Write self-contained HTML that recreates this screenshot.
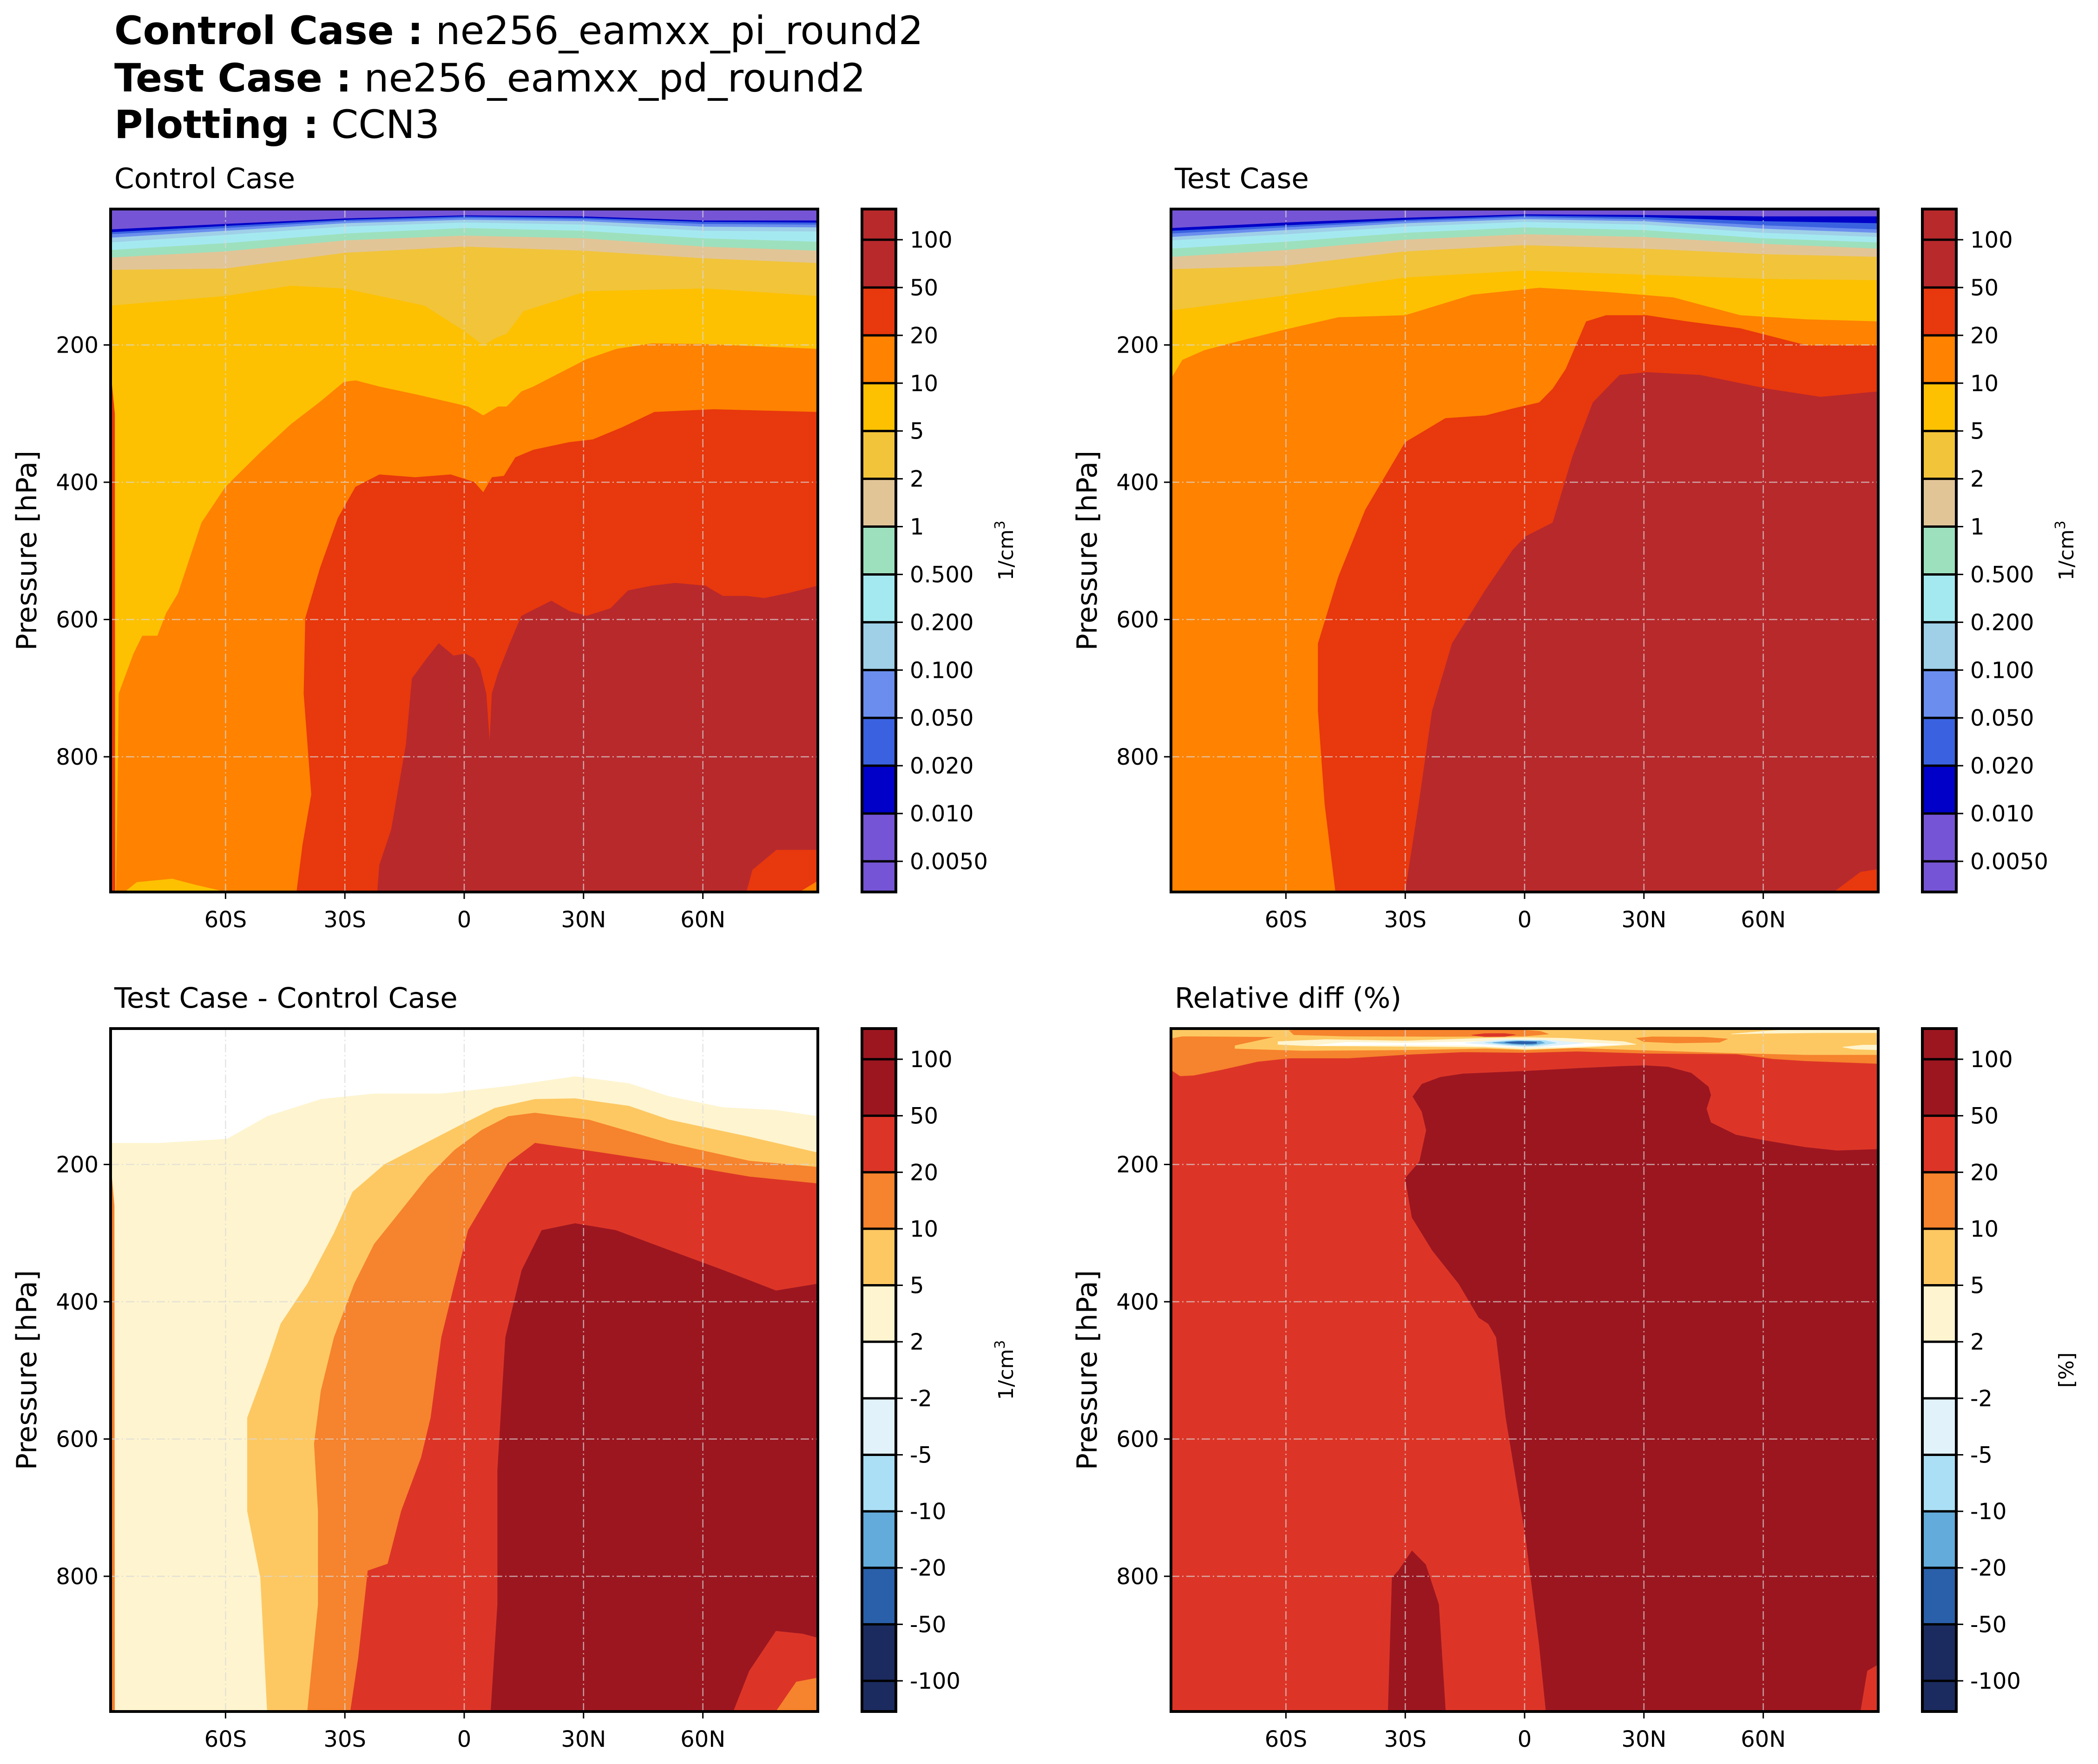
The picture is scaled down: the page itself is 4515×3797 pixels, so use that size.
<!DOCTYPE html>
<html><head><meta charset="utf-8"><title>CCN3 zonal mean</title>
<style>html,body{margin:0;padding:0;background:#fff;}svg{display:block;}text{font-family:"DejaVu Sans","Liberation Sans",sans-serif;fill:#000;}</style>
</head><body>
<svg id="fig" xmlns="http://www.w3.org/2000/svg" width="4515" height="3797" viewBox="0 0 4515 3797">
<rect width="4515" height="3797" fill="#fff"/>
<g>
<text x="246" y="95" font-size="84"><tspan font-weight="bold">Control Case :</tspan> ne256_eamxx_pi_round2</text>
<text x="246" y="197" font-size="84"><tspan font-weight="bold">Test Case :</tspan> ne256_eamxx_pd_round2</text>
<text x="246" y="297" font-size="84"><tspan font-weight="bold">Plotting :</tspan> CCN3</text>
</g>
</svg>
<script>
// ---------- axis ranges ----------
const latRange = [-88.9, 88.9];
const presRange = [2, 997];
const xTickValues = [-60, -30, 0, 30, 60];
const xTickLabels = ["60S", "30S", "0", "30N", "60N"];
const yTickValues = [200, 400, 600, 800];
const yTickLabels = ["200", "400", "600", "800"];
const panelTitles = ["Control Case", "Test Case", "Test Case - Control Case", "Relative diff (%)"];
const cbUnits = ["1/cm", "1/cm", "1/cm", "[%]"];

// ---------- colorbar data ----------
const cbTicksAbs = ["100","50","20","10","5","2","1","0.500","0.200","0.100","0.050","0.020","0.010","0.0050"];
const cbColorsAbs = ["#b8292c","#b8292c","#e8380d","#ff8200","#fdc101","#f2c43a","#e2c597","#9de0bd","#a5e9f0","#9fd0e8","#6b8eee","#3a62e0","#0000c8","#7555d5","#7555d5"];
const cbTicksDiff = ["100","50","20","10","5","2","-2","-5","-10","-20","-50","-100"];
const cbColorsDiff = ["#9c1620","#9c1620","#dc3527","#f6832d","#fdc862","#fef4cf","#ffffff","#e1f2fa","#abdff5","#63abdb","#2a5fa9","#1b2b60","#1b2b60"];

// ---------- Panel 1 (control) ----------
const bandLats = [-88.9, -60, -30, 0, 30, 60, 88.9];
const ctl001 = [32, 24, 16, 11.5, 13, 19, 19];
const ctl002 = [36, 27, 18, 13, 15, 21, 22];
const ctl005 = [39, 30, 20, 15, 17, 24, 25];
const ctl01 = [44, 34, 23, 18, 20, 28, 29];
const ctl02 = [51, 40, 28, 22, 25, 34, 35];
const ctl05 = [62, 52, 38, 30, 34, 45, 50];
const ctl1 = [73, 64, 48, 41, 45, 57, 63];
const ctl2 = [91, 89, 66, 57, 63, 74, 81];
const ctl5 = [[-88.9,143],[-60,129],[-43.6,114],[-30.2,118],[-10,143],[0,180],[4.8,201],[8,190],[10.7,184],[15,151],[30.8,122],[60.6,118],[88.9,129]];
const ctl10 = [[-87.5,997],[-87.3,928],[-86.8,708],[-83.1,650],[-80.9,624],[-77.1,624],[-74.9,591],[-71.9,562],[-66,459],[-60,407],[-51.1,356],[-43.6,316],[-36.2,283],[-30.2,254],[-27.3,252],[-21.3,261],[-12.4,272],[-3.4,284],[1,290],[4.8,303],[8.5,290],[10.7,290],[14.4,268],[17.4,261],[23.4,243],[30.8,221],[38.3,206],[47.2,198],[60.6,199],[88.9,206],[88.9,997]];
const ctl20 = [[-42.1,997],[-40.6,928],[-38.4,855],[-40.3,708],[-39.9,598],[-36.2,525],[-31.7,452],[-27.3,407],[-21.3,389],[-12.4,393],[-3.4,389],[2.5,400],[4.8,415],[7,393],[10,391],[12.9,364],[17.4,353],[26.4,342],[32.3,338],[39.8,320],[47.8,298],[62.7,294],[88.9,298],[88.9,997]];
const ctl50 = [[-21.8,997],[-21.3,958],[-18.3,906],[-14.6,782],[-13.1,686],[-9.4,657],[-6.4,635],[-2.7,653],[0.3,650],[2.5,657],[4,672],[5.5,708],[6.4,782],[7,708],[8.5,679],[11.5,635],[14.4,595],[21.9,573],[26.4,588],[30.8,595],[36.8,584],[41.2,558],[47.2,551],[53.1,547],[60.6,551],[65,566],[71,566],[75.5,569],[81.4,562],[88.9,551],[88.9,997]];
const ctlEdgeStrip = [[-88.9,240],[-87.9,300],[-87.8,997],[-88.9,997]];
const ctlBottomYellow = [[-85.3,997],[-82.3,983],[-73.4,978],[-67.5,987],[-60,997]];
const ctlCornerRed = [[71,997],[72.5,965],[78.5,936],[88.9,936],[88.9,997]];
const ctlCornerOrange = [[84.4,997],[88.9,981],[88.9,997]];

// ---------- Panel 2 (test) ----------
const tst001 = [30, 22, 15, 10, 11, 13, 13];
const tst002 = [34, 26, 18, 12, 14, 20, 23];
const tst005 = [38, 29, 20, 14, 17, 26, 32];
const tst01 = [43, 33, 23, 17, 20, 31, 37];
const tst02 = [48, 39, 28, 21, 25, 37, 43];
const tst05 = [60, 50, 37, 29, 33, 45, 51];
const tst1 = [72, 62, 47, 39, 43, 53, 60];
const tst2 = [90, 85, 64, 55, 60, 68, 72];
const tst5 = [150, 128, 102, 92, 98, 104, 106];
const tst10 = [[-88.9,997],[-88.9,250],[-86,222],[-80.5,208],[-70,192],[-60.3,178],[-46.8,160],[-30,157],[-13.1,127],[3.7,117],[20.5,123],[37.4,131],[54.2,157],[71,163],[88.9,166],[88.9,997]];
const tst20 = [[-47.5,997],[-50.2,870],[-51.9,733],[-51.9,635],[-46.8,538],[-40,440],[-30,342],[-19.9,307],[-9.8,303],[-3,293],[3.7,284],[7.1,264],[10.4,235],[15.5,166],[20.5,157],[30.7,157],[40.8,166],[54.2,176],[71,201],[88.9,201],[88.9,997]];
const tst50 = [[-30,997],[-26.6,870],[-23.2,733],[-18.2,635],[-9.8,557],[-3,499],[0.3,479],[7.1,459],[12.1,362],[17.2,284],[23.9,244],[30.7,240],[44.1,244],[61,264],[74.4,276],[88.9,268],[88.9,997]];
const tstCornerRed = [[77.8,997],[84.5,968],[88.9,964],[88.9,997]];

// ---------- Panel 3 (difference) ----------
const dif2 = [[-88.9,997],[-88.9,169],[-76.4,169],[-59.6,163],[-49.5,130],[-36,105],[-22.6,97],[-5.8,97],[11.1,86],[27.9,72],[41.4,82],[51.5,101],[65,117],[78.4,121],[88.9,130],[88.9,997]];
const dif5 = [[-49.5,997],[-51.2,802],[-54.5,705],[-54.5,569],[-49.5,491],[-46.1,432],[-39.4,374],[-32.7,300],[-28,240],[-20,200],[-10,170],[0,140],[7.7,118],[17.8,105],[27.9,104],[41.4,115],[51.5,135],[71.7,160],[88.9,183],[88.9,997]];
const dif10 = [[-39.4,997],[-36.7,841],[-36.7,705],[-37.7,607],[-36,530],[-32.7,452],[-27.6,374],[-22.6,316],[-15.8,267],[-9.1,218],[-2.4,179],[4.4,150],[11.1,130],[17.8,125],[31.3,135],[51.5,169],[71.7,195],[88.9,204],[88.9,997]];
const dif20 = [[-28.6,997],[-26.6,919],[-24.2,792],[-19.2,782],[-15.8,705],[-10.8,627],[-8.4,569],[-5.7,452],[-2.4,374],[1,296],[6,247],[11.1,198],[17.8,169],[34.6,183],[51.5,198],[71.7,218],[88.9,228],[88.9,997]];
const dif50 = [[6.7,997],[8.4,841],[8.4,646],[10.4,452],[14.5,354],[19.5,296],[27.9,286],[38.1,296],[51.5,325],[65,354],[78.4,384],[88.9,374],[88.9,997]];
const difCornerRed = [[67.7,997],[71.7,938],[78.4,880],[85.1,884],[88.9,890],[88.9,997]];
const difCornerOrange = [[78.4,997],[83.5,954],[88.9,948],[88.9,997]];
const difEdgeStrip = [[-88.9,200],[-88,260],[-87.9,997],[-88.9,997]];

// ---------- Panel 4 (relative difference) ----------
const relOrange = [[-88.9,2],[88.9,2],[88.9,53],[70.5,49],[62.5,46],[53.3,39],[30.4,38],[13.2,35],[0.6,37],[-15.5,36],[-30.4,40],[-44.2,45],[-59.1,45],[-67.1,50],[-76.3,62],[-83.2,70],[-86.6,71],[-88.9,62]];
const relLightOrange = [[-88.9,2],[88.9,2],[88.9,40],[70.5,40],[53.3,37.7],[28.1,33],[13.2,30],[0.6,33],[-9.8,31],[-30.4,33],[-55.6,34],[-72.8,31],[-72.8,27],[-62.5,14],[-86,13],[-88.9,16]];
const relBlobA = [[-59.1,5],[-54,2],[-6,2],[4,6],[6,10],[0,13],[-20,13.5],[-45,13],[-58,11]];
const relBlobRed = [[-13.3,11.5],[-10,9.3],[-5,9.2],[-2.3,11],[-5,13.5],[-10,13.8]];
const relBlobB = [[28.1,16],[32,14],[45,14.5],[51,17],[49,22],[38,23],[30,21]];
const relCream = [[-62,21],[-50,18],[-30,20],[-10,16],[0,15],[10,16],[25,21],[28,25],[15,29],[0,32],[-10,29],[-30,28],[-55,27],[-62,25]];
const relCreamTop = [[52,10],[60,6],[70,2],[88.9,2],[88.9,8],[75,8],[60,9]];
const relCreamRight = [[80,29],[85,26],[88.9,26],[88.9,33],[83,32]];
const relWhite = [[-53,27],[-45,22],[-30,23],[-12,21],[0,19],[12,22],[24,25],[12,28],[0,29.5],[-15,26.5],[-35,26],[-50,26.5]];
const relBlue1 = [[-15,23],[-5,18],[5,18.5],[15,23],[5,28],[0,29],[-5,27]];
const relBlue2 = [[-10,22.5],[-3,19],[5,19.5],[8,23],[3,27],[0,27.5],[-4,26]];
const relBlue3 = [[-8,22.5],[-2,20],[4,20.5],[5,23],[2,26],[-3,25]];
const relBlue4 = [[-5,22],[-1,20.7],[3,21.5],[3,23.5],[0,24.5],[-3,23.5]];
const rel50 = [[-26.4,196],[-24.7,150],[-25.8,123],[-28.1,101],[-25.8,83],[-21.2,73],[-15.5,68],[0.6,64],[13.2,60],[24.7,57],[30.4,56],[36.1,58],[41.9,67],[46.2,87],[46.8,99],[45.7,119],[46.8,139],[53.1,157],[60.2,165],[70.5,175],[78.5,180],[88.9,178],[88.9,997],[5.4,997],[3.7,900],[0.3,744],[-4.7,569],[-7.1,452],[-9.1,432],[-11.5,423],[-16.5,374],[-23.2,325],[-28.3,277],[-30,220]];
const rel50Blob = [[-34.3,997],[-33.3,802],[-31.7,792],[-28.3,763],[-24.9,783],[-21.6,841],[-19.9,997]];
const relCornerRed = [[84.5,997],[86.2,938],[88.9,929],[88.9,997]];

// ---------- layout ----------
const NS = "http://www.w3.org/2000/svg";
const svg = document.getElementById("fig");
const PW = 1522, PH = 1470;
const panels = [{x:238,y:450},{x:2520,y:450},{x:238,y:2214},{x:2520,y:2214}];
function xs(i, lat){ return panels[i].x + (lat - latRange[0]) / (latRange[1]-latRange[0]) * PW; }
function ys(i, p){ return panels[i].y + (p - presRange[0]) / (presRange[1]-presRange[0]) * PH; }
function mk(tag, attrs, parent){ const e = document.createElementNS(NS, tag); for (const k in attrs) e.setAttribute(k, attrs[k]); (parent||svg).appendChild(e); return e; }
function bandPts(vals){ const pts = bandLats.map((l,k)=>[l, vals[k]]); pts.push([latRange[1], presRange[1]]); pts.push([latRange[0], presRange[1]]); return pts; }
function poly(g, i, pts, color, name){
  const e = mk("polygon", {points: pts.map(q => xs(i,q[0]).toFixed(1)+","+ys(i,q[1]).toFixed(1)).join(" "), fill: color, stroke: color, "stroke-width": 1}, g);
  
  
}

const layers = [
 [ ["#7555d5", bandPts([2,2,2,2,2,2,2])], ["#0000c8", bandPts(ctl001)], ["#3a62e0", bandPts(ctl002)], ["#6b8eee", bandPts(ctl005)], ["#9fd0e8", bandPts(ctl01)], ["#a5e9f0", bandPts(ctl02)], ["#9de0bd", bandPts(ctl05)], ["#e2c597", bandPts(ctl1)], ["#f2c43a", bandPts(ctl2)],
   ["#fdc101", ctl5.concat([[88.9,997],[-88.9,997]])], ["#ff8200", ctl10], ["#e8380d", ctlEdgeStrip], ["#fdc101", ctlBottomYellow], ["#e8380d", ctl20], ["#b8292c", ctl50], ["#e8380d", ctlCornerRed], ["#ff8200", ctlCornerOrange] ],
 [ ["#7555d5", bandPts([2,2,2,2,2,2,2])], ["#0000c8", bandPts(tst001)], ["#3a62e0", bandPts(tst002)], ["#6b8eee", bandPts(tst005)], ["#9fd0e8", bandPts(tst01)], ["#a5e9f0", bandPts(tst02)], ["#9de0bd", bandPts(tst05)], ["#e2c597", bandPts(tst1)], ["#f2c43a", bandPts(tst2)], ["#fdc101", bandPts(tst5)],
   ["#ff8200", tst10], ["#e8380d", tst20], ["#b8292c", tst50], ["#e8380d", tstCornerRed] ],
 [ ["#ffffff", bandPts([2,2,2,2,2,2,2])], ["#fef4cf", dif2], ["#fdc862", dif5], ["#f6832d", dif10], ["#dc3527", dif20], ["#9c1620", dif50], ["#dc3527", difCornerRed], ["#f6832d", difCornerOrange], ["#f6832d", difEdgeStrip] ],
 [ ["#dc3527", bandPts([2,2,2,2,2,2,2])], ["#f6832d", relOrange], ["#fdc862", relLightOrange], ["#f6832d", relBlobA], ["#dc3527", relBlobRed], ["#f6832d", relBlobB], ["#fef4cf", relCream], ["#fef4cf", relCreamTop], ["#fef4cf", relCreamRight], ["#ffffff", relWhite], ["#e1f2fa", relBlue1], ["#abdff5", relBlue2], ["#63abdb", relBlue3], ["#2a5fa9", relBlue4],
   ["#9c1620", rel50], ["#9c1620", rel50Blob], ["#dc3527", relCornerRed] ]
];

for (let i = 0; i < 4; i++){
  const P = panels[i];
  const g = mk("g", {});
  
  
  const defs = mk("defs", {}, g);
  const cp = mk("clipPath", {id: "clip"+i}, defs);
  mk("rect", {x:P.x, y:P.y, width:PW, height:PH}, cp);
  const fills = mk("g", {"clip-path": "url(#clip"+i+")"}, g);
  
  
  layers[i].forEach((L, k) => poly(fills, i, L[1], L[0], 'contour-region-' + k));
  xTickValues.forEach(v => {
    const l = mk("line", {x1:xs(i,v), x2:xs(i,v), y1:P.y, y2:P.y+PH, stroke:"#d8d8d8", "stroke-opacity":0.7, "stroke-width":2.5, "stroke-dasharray":"18 6 3 6"}, g);
    
    
  });
  yTickValues.forEach(v => {
    const l = mk("line", {x1:P.x, x2:P.x+PW, y1:ys(i,v), y2:ys(i,v), stroke:"#d8d8d8", "stroke-opacity":0.7, "stroke-width":2.5, "stroke-dasharray":"18 6 3 6"}, g);
    
    
  });
  const fr = mk("rect", {x:P.x, y:P.y, width:PW, height:PH, fill:"none", stroke:"#000", "stroke-width":6}, g);
  
  
  xTickValues.forEach((v, k) => {
    const x = xs(i, v);
    const t = mk("line", {x1:x, x2:x, y1:P.y+PH, y2:P.y+PH+15, stroke:"#000", "stroke-width":3}, g);
    
    
    const tx = mk("text", {x:x, y:P.y+PH+76, "font-size":48, "text-anchor":"middle"}, g);
    tx.textContent = xTickLabels[k];
    
    
  });
  yTickValues.forEach((v, k) => {
    const y = ys(i, v);
    const t = mk("line", {x1:P.x-15, x2:P.x, y1:y, y2:y, stroke:"#000", "stroke-width":3}, g);
    
    
    const tx = mk("text", {x:P.x-26, y:y+17, "font-size":48, "text-anchor":"end"}, g);
    tx.textContent = yTickLabels[k];
    
    
  });
  const yl = mk("text", {x:0, y:0, "font-size":60, "text-anchor":"middle", transform:"translate("+(P.x-160)+","+(P.y+PH/2)+") rotate(-90)"}, g);
  yl.textContent = "Pressure [hPa]";
  
  
  const tt = mk("text", {x:P.x+8, y:P.y-45, "font-size":61}, g);
  tt.textContent = panelTitles[i];
  
  

  const isDiff = i >= 2;
  const ticks = isDiff ? cbTicksDiff : cbTicksAbs;
  const cols = isDiff ? cbColorsDiff : cbColorsAbs;
  const cbx = P.x + PW + 95, cbw = 73, ext = 66;
  const step = (PH - 2*ext) / (ticks.length - 1);
  const cg = mk("g", {}, g);
  
  
  const bounds = [P.y].concat(ticks.map((_, k) => P.y + ext + k*step)).concat([P.y+PH]);
  cols.forEach((c, k) => {
    const r = mk("rect", {x:cbx, y:bounds[k], width:cbw, height:bounds[k+1]-bounds[k]+0.5, fill:c}, cg);
    
    
  });
  ticks.forEach((lab, k) => {
    const y = P.y + ext + k*step;
    const sep = mk("line", {x1:cbx, x2:cbx+cbw, y1:y, y2:y, stroke:"#000", "stroke-width":5}, cg);
    
    
    const tk = mk("line", {x1:cbx+cbw, x2:cbx+cbw+15, y1:y, y2:y, stroke:"#000", "stroke-width":3}, cg);
    
    
    const tx = mk("text", {x:cbx+cbw+30, y:y+17, "font-size":48}, cg);
    tx.textContent = lab;
    
    
  });
  const cf = mk("rect", {x:cbx, y:P.y, width:cbw, height:PH, fill:"none", stroke:"#000", "stroke-width":6}, cg);
  
  
  const ul = mk("text", {x:0, y:0, "font-size":44, "text-anchor":"middle", transform:"translate("+(P.x+PW+420)+","+(P.y+PH/2)+") rotate(-90)"}, cg);
  ul.textContent = cbUnits[i];
  if (i < 3) { const sup = mk("tspan", {"font-size":30, dy:-18}, ul); sup.textContent = "3"; }
  
  
}
</script>
</body></html>
